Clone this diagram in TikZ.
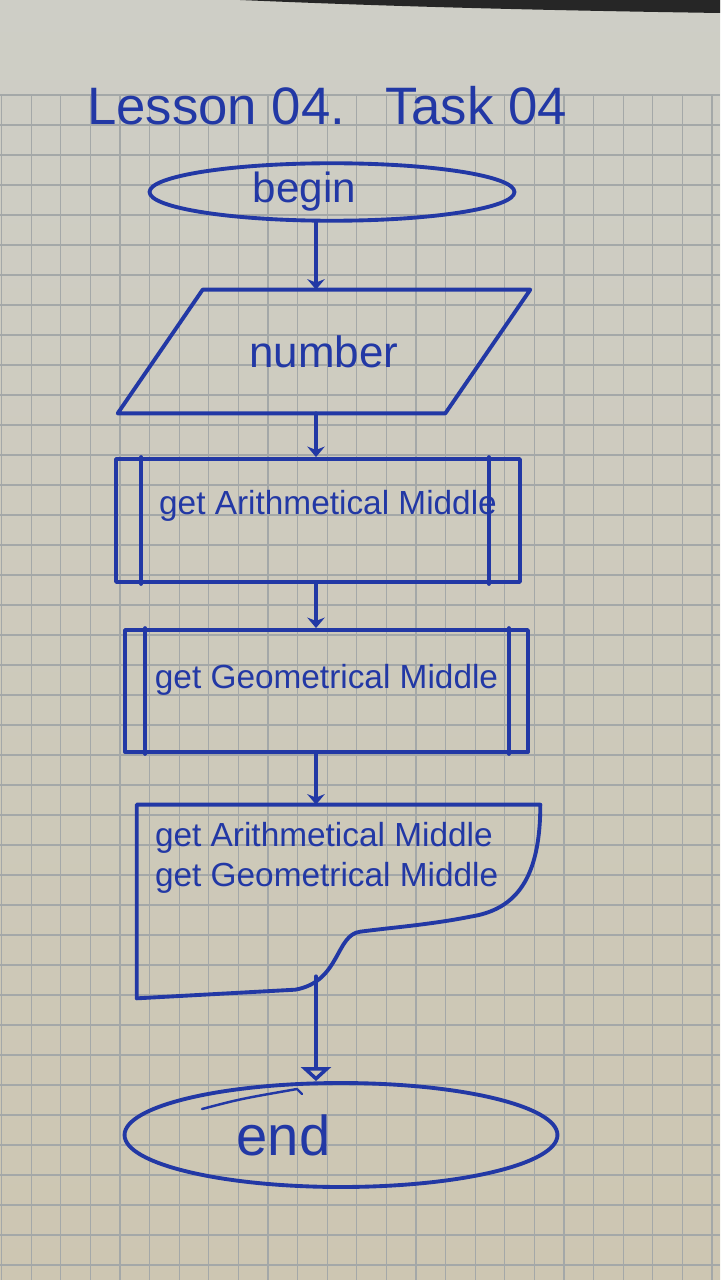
\documentclass[tikz,border=0pt]{standalone}
\usepackage{fontspec}
\setmainfont{Liberation Sans}
\usetikzlibrary{shapes.geometric,arrows.meta,calc}

\definecolor{ink}{RGB}{34,56,165}
\definecolor{paper}{RGB}{206,206,198}
\definecolor{paperlow}{RGB}{205,198,178}
\definecolor{gridgrey}{RGB}{164,168,168}

\begin{document}
\begin{tikzpicture}[x=0.02cm, y=-0.02cm,
  pen/.style={draw=ink, line width=2.2pt, line join=round, line cap=round},
  flow/.style={pen, -{Stealth[length=6pt,width=10pt]}},
  openflow/.style={pen, -{Triangle[open,length=8pt,width=17pt]}},
  hand/.style={text=ink, inner sep=0pt, font=\fontsize{19}{23}\selectfont},
  term/.style={pen, ellipse, inner sep=0pt, text=ink},
  iobox/.style={rectangle, inner sep=0pt, text=ink},
  subproc/.style={pen, rectangle, inner sep=0pt},
  gridln/.style={draw=gridgrey, line width=0.7pt}]

  % paper
  \useasboundingbox (0,0) rectangle (720,1280);
  \shade[top color=paper, bottom color=paperlow] (0,0) rectangle (720,1280);
  \fill[black!85] (240,0) -- (720,0) -- (720,13) .. controls (520,10) and (380,6) .. (240,0) -- cycle;
  \foreach \gx in {1.6,31.2,...,720} \draw[gridln] (\gx,95) -- (\gx,1280);
  \foreach \gy in {95,125,...,1280} \draw[gridln] (0,\gy) -- (720,\gy);

  \coordinate (axis) at (316,0);

  % title
  \node[text=ink, font=\fontsize{30}{36}\selectfont] (title) at (327,106)
    {Lesson 04.\hspace{0.8cm}Task 04};

  % shapes
  \node[term, minimum width=7.3cm, minimum height=1.15cm,
    font=\fontsize{24}{28}\selectfont] (start) at (332,192) {begin\hspace*{1.1cm}};

  \node[iobox, minimum width=8.24cm, minimum height=2.46cm,
    font=\fontsize{25}{30}\selectfont] (number) at (324,351.5) {number};
  \draw[pen] ([xshift=1.7cm]number.north west) -- (number.north east)
    -- ([xshift=-1.7cm]number.south east) -- (number.south west) -- cycle;

  \node[subproc, minimum width=8.08cm, minimum height=2.46cm] (arith) at (318,520.5) {};
  \node[hand] (arithtxt) at ([xshift=0.2cm,yshift=0.3cm]arith) {get Arithmetical Middle};
  \draw[pen] ([xshift=0.54cm]arith.north west) -- ([xshift=0.54cm]arith.south west);
  \draw[pen] ([xshift=-0.66cm]arith.north east) -- ([xshift=-0.66cm]arith.south east);

  \node[subproc, minimum width=8.06cm, minimum height=2.44cm] (geom) at (326.5,691) {};
  \node[hand] (geomtxt) at ([yshift=0.22cm]geom) {get Geometrical Middle};
  \draw[pen] ([xshift=0.44cm]geom.north west) -- ([xshift=0.44cm]geom.south west);
  \draw[pen] ([xshift=-0.42cm]geom.north east) -- ([xshift=-0.42cm]geom.south east);

  % output document
  \node[minimum width=8.06cm, minimum height=3.86cm, inner sep=0pt] (doc) at (338.5,901.5) {};
  \draw[pen] (doc.north west) -- (doc.north east)
    .. controls +(0,75) and +(45,-7) .. ++(-70,112)
    .. controls +(-40,8) and +(30,-4) .. ++(-110,15)
    .. controls +(-25,3) and +(45,-8) .. ++(-65,58)
    -- (doc.south west) -- cycle;
  \node[hand, anchor=north west, align=left] (doctxt) at ([xshift=0.36cm,yshift=-0.34cm]doc.north west)
    {get Arithmetical Middle\\get Geometrical Middle};
  \coordinate (docout) at ($(doc.south -| axis)+(0,-22)$);

  \node[term, minimum width=8.66cm, minimum height=2.08cm,
    font=\fontsize{32}{38}\selectfont] (stop) at (341,1135) {end\hspace*{2.3cm}};
  \draw[pen, line width=1.4pt] (202,1109) .. controls (240,1099) .. (297,1089) -- (302,1094);

  % connectors
  \draw[flow] (start.south -| axis) -- (number.north -| axis);
  \draw[flow] (number.south -| axis) -- (arith.north -| axis);
  \draw[flow] (arith.south -| axis) -- (geom.north -| axis);
  \draw[flow] (geom.south -| axis) -- (doc.north -| axis);
  \draw[openflow] (docout) -- (stop.north -| axis);
\end{tikzpicture}
\end{document}
